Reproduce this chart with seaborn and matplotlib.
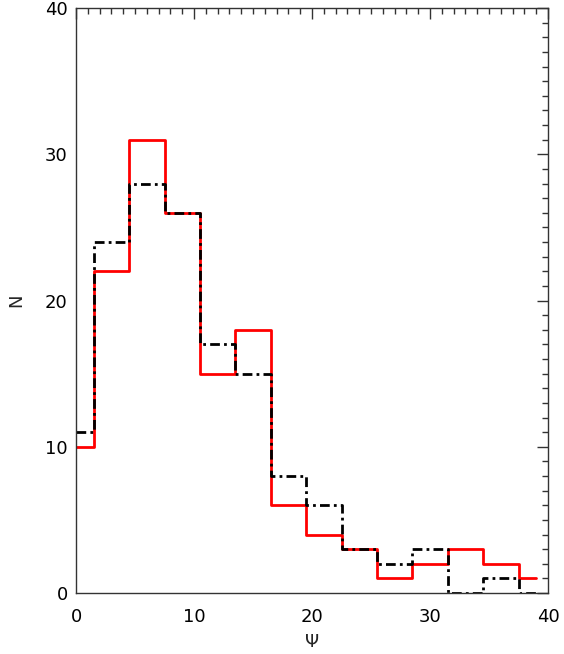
import numpy as np
import pandas as pd
import matplotlib
matplotlib.use("Agg")
import matplotlib.pyplot as plt
import seaborn as sns
from matplotlib.ticker import MultipleLocator

# histogram bin centres (Psi) and counts for the two samples
psi = [0, 3, 6, 9, 12, 15, 18, 21, 24, 27, 30, 33, 36, 39]
n_red = [10, 22, 31, 26, 15, 18, 6, 4, 3, 1, 2, 3, 2, 1]
n_black = [11, 24, 28, 26, 17, 15, 8, 6, 3, 2, 3, 0, 1, 0]

sns.set_style("white")
plt.rcParams['font.family'] = ['DejaVu Sans']

fig = plt.figure(figsize=(5.64, 6.54), dpi=100)
ax = fig.add_axes([76/564, 1 - 593/654, (548 - 76)/564, (593 - 8)/654])

df = pd.DataFrame({"psi": psi, "red": n_red, "black": n_black})
sns.lineplot(data=df, x="psi", y="red", ax=ax, color="red", lw=2,
             drawstyle="steps-mid")
sns.lineplot(data=df, x="psi", y="black", ax=ax, color="black", lw=2,
             drawstyle="steps-mid", linestyle=(0, (3.5, 1.5, 1, 1.5)))

ax.set_xlim(0, 40)
ax.set_ylim(0, 40)
ax.xaxis.set_major_locator(MultipleLocator(10))
ax.xaxis.set_minor_locator(MultipleLocator(1))
ax.yaxis.set_major_locator(MultipleLocator(10))
ax.yaxis.set_minor_locator(MultipleLocator(1))
ax.tick_params(which="both", direction="in", top=True, right=True,
               color="#333333", width=1, labelsize=13, labelcolor="black")
ax.tick_params(which="major", length=8)
ax.tick_params(which="minor", length=4.3)
ax.tick_params(axis="x", pad=11)
ax.tick_params(axis="y", pad=6)
for s in ax.spines.values():
    s.set_color("#333333")
    s.set_linewidth(1)

ax.set_xlabel("Ψ", fontsize=13, labelpad=5)
ax.set_ylabel("N", fontsize=13, labelpad=14)

fig.savefig("out.png", dpi=100)
